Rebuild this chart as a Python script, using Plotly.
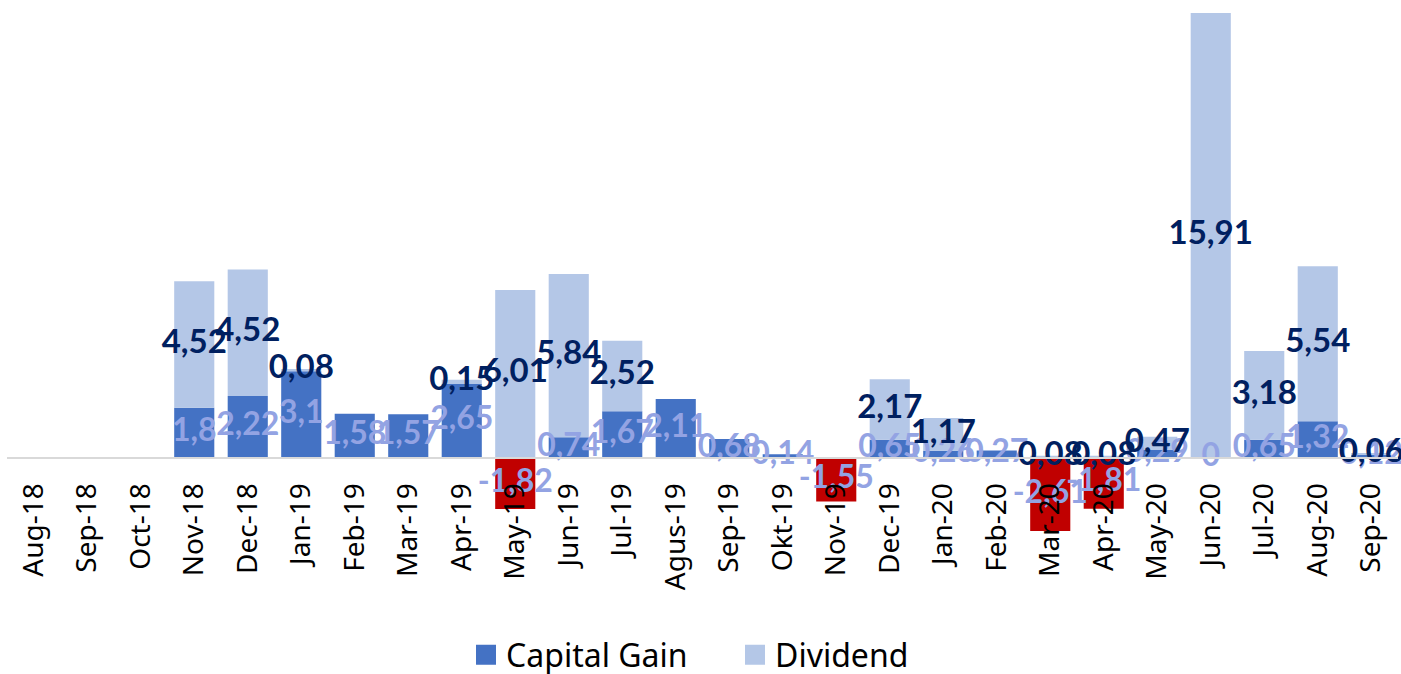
import plotly.graph_objects as go

months = ["Aug-18", "Sep-18", "Oct-18", "Nov-18", "Dec-18", "Jan-19", "Feb-19", "Mar-19",
          "Apr-19", "May-19", "Jun-19", "Jul-19", "Agus-19", "Sep-19", "Okt-19", "Nov-19",
          "Dec-19", "Jan-20", "Feb-20", "Mar-20", "Apr-20", "May-20", "Jun-20", "Jul-20",
          "Aug-20", "Sep-20"]
capital_gain = [None, None, None, 1.8, 2.22, 3.1, 1.58, 1.57, 2.65, -1.82, 0.74, 1.67, 2.11,
                0.68, 0.14, -1.55, 0.65, 0.26, 0.27, -2.61, -1.81, 0.29, 0, 0.65, 1.32, 0.12]
dividend = [None, None, None, 4.52, 4.52, 0.08, None, None, 0.15, 6.01, 5.84, 2.52, None,
            None, None, None, 2.17, 1.17, None, 0.08, 0.08, 0.47, 15.91, 3.18, 5.54, 0.06]

POS_COLOR = "#4472C4"
NEG_COLOR = "#C00000"
DIV_COLOR = "#B4C7E7"
CG_LABEL = "#93A3E3"
DIV_LABEL = "#002060"
LABEL_FONT = "Lato"
AXIS_FONT = "Noto Sans"


def fmt(v):
    return f"{v:g}".replace(".", ",")


cg_colors = [NEG_COLOR if (v is not None and v < 0) else POS_COLOR for v in capital_gain]

# label positions: centre of each stacked segment (relative stacking)
cg_x, cg_y, cg_t = [], [], []
dv_x, dv_y, dv_t = [], [], []
for m, c, d in zip(months, capital_gain, dividend):
    if c is not None:
        cg_x.append(m); cg_y.append(c / 2); cg_t.append(fmt(c))
    if d is not None:
        base = c if (c is not None and c > 0) else 0
        dv_x.append(m); dv_y.append(base + d / 2); dv_t.append(fmt(d))

fig = go.Figure()
fig.add_trace(go.Bar(x=months, y=capital_gain, name="Capital Gain", showlegend=False,
                     marker=dict(color=cg_colors, line=dict(width=0))))
fig.add_trace(go.Bar(x=months, y=dividend, name="Dividend", showlegend=False,
                     marker=dict(color=DIV_COLOR, line=dict(width=0))))
fig.add_trace(go.Scatter(x=cg_x, y=cg_y, text=cg_t, mode="text", showlegend=False,
                         hoverinfo="skip", cliponaxis=False,
                         textfont=dict(family=LABEL_FONT, size=32, color=CG_LABEL, weight="bold")))
fig.add_trace(go.Scatter(x=dv_x, y=dv_y, text=dv_t, mode="text", showlegend=False,
                         hoverinfo="skip", cliponaxis=False,
                         textfont=dict(family=LABEL_FONT, size=33, color=DIV_LABEL, weight="bold")))
# legend proxies (larger square swatches)
for nm, col in [("Capital Gain", POS_COLOR), ("Dividend", DIV_COLOR)]:
    fig.add_trace(go.Scatter(x=[None], y=[None], mode="markers", name=nm,
                             marker=dict(symbol="square", size=16, color=col,
                                         line=dict(width=4, color=col))))

ymin, ymax = -2.93, 16.09
fig.update_layout(
    barmode="relative",
    bargap=0.25,
    width=1401, height=674,
    margin=dict(l=7, r=3, t=8, b=134, autoexpand=False),
    paper_bgcolor="white", plot_bgcolor="white",
    font=dict(family=AXIS_FONT, color="black"),
    showlegend=True,
    legend=dict(orientation="h", x=0.33, xanchor="left", y=-0.216, yanchor="middle",
                font=dict(family=AXIS_FONT, size=32, color="black"), traceorder="normal",
                itemwidth=30, entrywidth=224, entrywidthmode="pixels"),
    xaxis=dict(type="category", anchor="free", position=(0 - ymin) / (ymax - ymin),
               range=[-0.5, len(months) - 0.5], autorange=False,
               showline=True, linecolor="#D9D9D9", linewidth=2, ticks="",
               tickangle=-90, tickfont=dict(family=AXIS_FONT, size=28, color="black"),
               showgrid=False, zeroline=False, ticklabelstandoff=13),
    yaxis=dict(range=[ymin, ymax], visible=False, showgrid=False, zeroline=False),
)

fig.write_html("out.html", config={"displayModeBar": False},
               post_script="document.body.style.margin='0px';")
